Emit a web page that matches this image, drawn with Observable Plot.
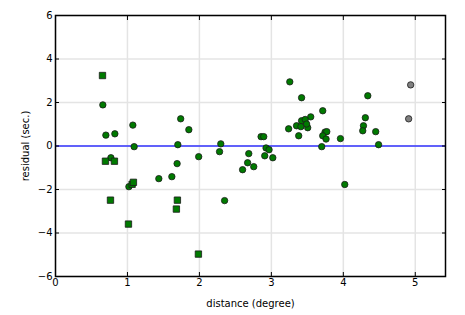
<!DOCTYPE html>
<html>
<head>
<meta charset="utf-8">
<script src="https://cdn.jsdelivr.net/npm/d3@7"></script>
<script src="https://cdn.jsdelivr.net/npm/@observablehq/plot@0.6"></script>
<style>
  html, body { margin: 0; padding: 0; background: #fff; }
  #chart svg { font-family: "DejaVu Sans", sans-serif; }
</style>
</head>
<body>
<div id="chart"></div>
<script>
// green circles
const circX = [0.658,1.075,0.70,0.825,1.74,1.853,1.093,1.70,2.297,0.77,2.28,1.99,1.69,2.686,2.67,2.60,2.755,1.436,1.617,1.02,2.35,
  3.256,3.42,4.34,3.714,3.547,3.42,3.47,3.35,3.41,3.505,3.49,3.24,3.38,4.306,4.28,4.27,4.45,3.746,3.77,3.714,3.76,3.96,2.857,2.894,3.70,4.49,2.926,2.968,2.908,3.02,4.02];
const circY = [1.89,0.96,0.50,0.56,1.25,0.75,-0.03,0.06,0.10,-0.54,-0.26,-0.49,-0.81,-0.35,-0.77,-1.09,-0.95,-1.50,-1.41,-1.87,-2.51,
  2.95,2.22,2.31,1.62,1.34,1.16,1.22,0.93,0.89,0.84,1.01,0.79,0.47,1.30,0.93,0.70,0.66,0.64,0.66,0.47,0.32,0.34,0.43,0.43,-0.03,0.06,-0.09,-0.17,-0.45,-0.54,-1.77];
// green squares
const sqX = [0.653,0.694,0.819,1.065,1.083,0.764,1.694,1.68,1.014,1.986];
const sqY = [3.24,-0.70,-0.70,-1.76,-1.67,-2.49,-2.49,-2.90,-3.59,-4.97];
// gray circles
const grayX = [4.936,4.908];
const grayY = [2.81,1.25];
const xTicks = [0,1,2,3,4,5];
const yTicks = [-6,-4,-2,0,2,4,6];

const circles = circX.map((x,i)=>({x, y: circY[i]}));
const squares = sqX.map((x,i)=>({x, y: sqY[i]}));
const grays = grayX.map((x,i)=>({x, y: grayY[i]}));

const chart = Plot.plot({
  width: 465, height: 315,
  marginLeft: 55, marginRight: 20, marginTop: 15, marginBottom: 39,
  style: {fontSize: "10px", fontFamily: "DejaVu Sans, sans-serif", color: "#000", background: "#fff"},
  x: {domain: [0, 5.42], ticks: xTicks},
  y: {domain: [-6, 6], ticks: yTicks},
  marks: [
    Plot.gridX(xTicks, {stroke: "#e4e4e4", strokeOpacity: 1, strokeWidth: 1.5}),
    Plot.gridY(yTicks, {stroke: "#e4e4e4", strokeOpacity: 1, strokeWidth: 1.5}),
    Plot.ruleY([0], {stroke: "#3333ff", strokeWidth: 1.5}),
    Plot.dot(circles, {x: "x", y: "y", r: 3.2, fill: "#007a00", stroke: "#1a1a1a", strokeWidth: 0.8}),
    Plot.dot(grays, {x: "x", y: "y", r: 3.2, fill: "#808080", stroke: "#1a1a1a", strokeWidth: 0.8}),
    Plot.dot(squares, {x: "x", y: "y", symbol: "square", r: 3.6, fill: "#007a00", stroke: "#1a1a1a", strokeWidth: 0.8}),
    Plot.axisX(xTicks, {anchor: "bottom", tickSize: -4, tickPadding: 6, label: "distance (degree)", labelAnchor: "center", labelArrow: "none", labelOffset: 30, fontSize: 10}),
    Plot.axisX(xTicks, {anchor: "top", tickSize: -4, tickFormat: () => "", label: null}),
    Plot.axisY(yTicks, {anchor: "left", tickSize: -4, tickPadding: 7, label: "residual (sec.)", labelAnchor: "center", labelArrow: "none", labelOffset: 34, fontSize: 10}),
    Plot.axisY(yTicks, {anchor: "right", tickSize: -4, tickFormat: () => "", label: null}),
    Plot.frame({stroke: "#000", strokeWidth: 1.5})
  ]
});
document.getElementById("chart").appendChild(chart);
</script>
</body>
</html>
